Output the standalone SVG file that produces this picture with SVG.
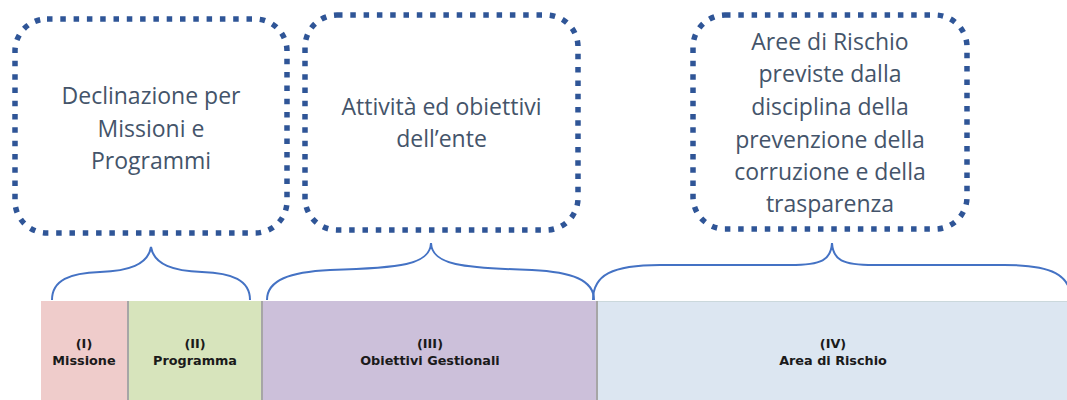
<svg xmlns="http://www.w3.org/2000/svg" width="1067" height="400" viewBox="0 0 1067 400">
<style>
.box{fill:#fff;stroke:#2F5597;stroke-width:5.5;stroke-dasharray:5.5 7.8}
.lbl{font-family:"Open Sans","Noto Sans",sans-serif;font-size:23px;fill:#44546A;text-anchor:middle}
.brace{fill:none;stroke:#4472C4;stroke-width:2}
.bt{font-family:"DejaVu Sans",sans-serif;font-weight:bold;font-size:12.8px;fill:#1a1a1a;text-anchor:middle}
.sep{stroke:#A6A6A6;stroke-width:2}
</style>
<rect width="1067" height="400" fill="#fff"/>
<g id="bar1"><rect x="41" y="301" width="87" height="99" fill="#EFCCCB"/><text class="bt" x="84" y="348">(I)</text><text class="bt" x="84" y="365">Missione</text></g>
<g id="bar2"><rect x="128" y="301" width="134" height="99" fill="#D7E4BC"/><text class="bt" x="195" y="348">(II)</text><text class="bt" x="195" y="365">Programma</text></g>
<g id="bar3"><rect x="262" y="301" width="335" height="99" fill="#CCC0DA"/><text class="bt" x="430" y="348">(III)</text><text class="bt" x="430" y="365">Obiettivi Gestionali</text></g>
<g id="bar4"><rect x="597" y="301" width="470" height="99" fill="#DCE6F1"/><line x1="597" y1="301.5" x2="1067" y2="301.5" stroke="#CBD8DC" stroke-width="1"/><text class="bt" x="833" y="348">(IV)</text><text class="bt" x="833" y="365">Area di Rischio</text></g>
<g id="separators"><line class="sep" x1="128" y1="301" x2="128" y2="400"/><line class="sep" x1="262" y1="301" x2="262" y2="400"/><line class="sep" x1="597" y1="301" x2="597" y2="400"/></g>
<g id="box1"><rect class="box" x="15" y="19" width="272" height="214" rx="32"/><text class="lbl" x="151" y="104">Declinazione per</text><text class="lbl" x="151" y="137">Missioni e</text><text class="lbl" x="151" y="169">Programmi</text></g>
<g id="box2"><rect class="box" x="305" y="15" width="273" height="215" rx="32"/><text class="lbl" x="441.5" y="115">Attività ed obiettivi</text><text class="lbl" x="441.5" y="147">dell’ente</text></g>
<g id="box3"><rect class="box" x="693" y="15" width="274" height="214" rx="32"/><text class="lbl" x="830" y="50">Aree di Rischio</text><text class="lbl" x="830" y="82">previste dalla</text><text class="lbl" x="830" y="115">disciplina della</text><text class="lbl" x="830" y="148">prevenzione della</text><text class="lbl" x="830" y="180">corruzione e della</text><text class="lbl" x="830" y="212">trasparenza</text></g>
<g id="connectors">
<path class="brace" d="M52,300 C52,280 70,273 100,272 C128,271 148,265 151,247 C154,265 174,271 202,272 C232,273 250,280 250,300"/>
<path class="brace" d="M267,300 C267,280 290,272 330,270 C400,268 430,265 431,243 C432,265 462,268 532,270 C572,272 594,280 594,300"/>
<path class="brace" d="M593,300 C593,275 612,265 660,265 L790,265 C822,265 831,260 832,243 C833,260 842,265 874,265 L1004,265 C1052,265 1071,275 1071,300"/>
</g>
</svg>
